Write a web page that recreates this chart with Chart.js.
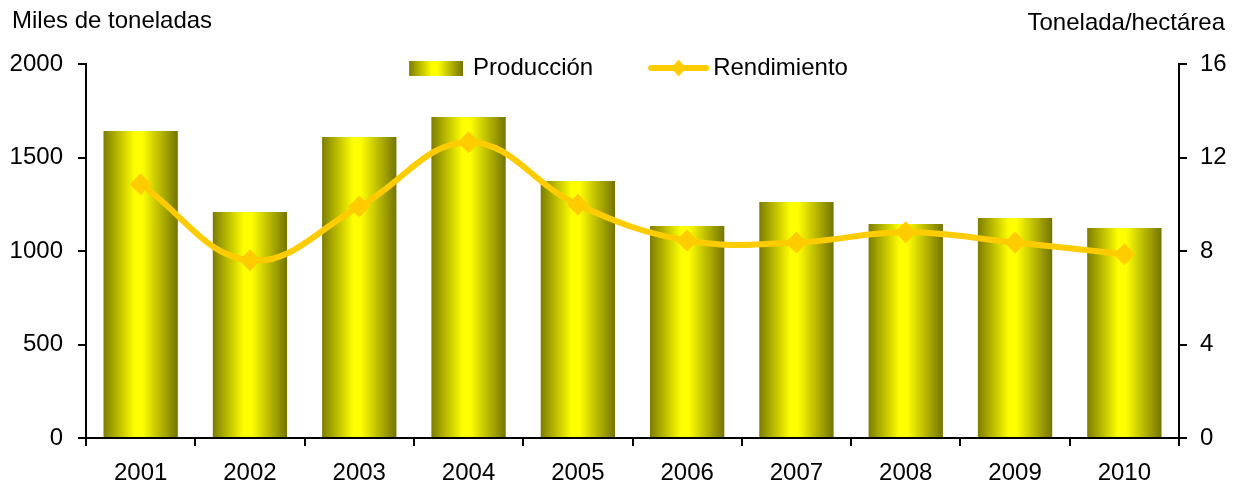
<!DOCTYPE html>
<html lang="es">
<head>
<meta charset="utf-8">
<title>Producción y rendimiento</title>
<script src="https://cdn.jsdelivr.net/npm/chart.js@4.4.1/dist/chart.umd.min.js"></script>
<style>
  html, body { margin: 0; padding: 0; background: #fff; }
  #wrap { width: 1238px; height: 485px; }
</style>
</head>
<body>
<div id="wrap"><canvas id="prodChart"></canvas></div>
<script>
const years = ['2001', '2002', '2003', '2004', '2005', '2006', '2007', '2008', '2009', '2010']
// miles de toneladas
const produccion = [1642, 1209, 1610, 1717, 1374, 1134, 1262, 1144, 1176, 1123]
// tonelada / hectárea
const rendimiento = [10.86, 7.6, 9.9, 12.65, 9.98, 8.45, 8.36, 8.8, 8.36, 7.86]
const seriesNames = ['Producción', 'Rendimiento']
const leftTitle = 'Miles de toneladas'
const rightTitle = 'Tonelada/hectárea'

const FONT = "'Liberation Sans', Arial, sans-serif"
const LINE_COLOR = '#FFCC00'
const BAR_PCT = 0.68

Chart.defaults.font.family = FONT
Chart.defaults.font.size = 24
Chart.defaults.color = '#000'

function addBarStops(g) {
  g.addColorStop(0, '#7d7d00')
  g.addColorStop(0.42, '#ffff00')
  g.addColorStop(0.52, '#ffff00')
  g.addColorStop(1, '#747400')
  return g
}

// legend icons: small canvases, content shifted by d from the legend box centre
function makeIcon(w, h, d, draw) {
  const c = document.createElement('canvas')
  c.width = Math.ceil(2 * (Math.abs(d) + w / 2))
  c.height = h
  const x0 = c.width / 2 + d - w / 2
  draw(c.getContext('2d'), x0)
  return c
}

const barIcon = makeIcon(54, 15, 10.5, (g, x0) => {
  g.fillStyle = addBarStops(g.createLinearGradient(x0, 0, x0 + 54, 0))
  g.fillRect(x0, 0, 54, 15)
})

const lineIcon = makeIcon(61, 18, 13, (g, x0) => {
  g.strokeStyle = LINE_COLOR
  g.lineWidth = 6
  g.lineCap = 'round'
  g.beginPath()
  g.moveTo(x0 + 3, 9)
  g.lineTo(x0 + 58, 9)
  g.stroke()
  g.fillStyle = LINE_COLOR
  g.beginPath()
  g.moveTo(x0 + 30.5 - 7.5, 9)
  g.lineTo(x0 + 30.5, 0.5)
  g.lineTo(x0 + 30.5 + 7.5, 9)
  g.lineTo(x0 + 30.5, 17.5)
  g.closePath()
  g.fill()
})

const axisTitles = {
  id: 'axisTitles',
  afterDraw(chart) {
    const { ctx } = chart
    ctx.save()
    ctx.font = '24px ' + FONT
    ctx.fillStyle = '#000'
    ctx.textBaseline = 'alphabetic'
    ctx.textAlign = 'left'
    ctx.fillText(leftTitle, 12, 28)
    ctx.textAlign = 'right'
    ctx.fillText(rightTitle, chart.width - 13, 30)
    ctx.restore()
  },
}

// legend sits over the top of the plot area: let it draw past its layout box
const legendOverlap = {
  id: 'legendOverlap',
  afterLayout(chart) {
    if (chart.legend) {
      chart.legend.bottom = chart.legend.top + 80
      chart.legend.height = 80
    }
  },
}

const axisGrid = { drawOnChartArea: false, color: '#000', lineWidth: 2, tickLength: 8 }
const axisBorder = { color: '#000', width: 2 }
const plainNumber = (v) => String(v)

const ctx = document.getElementById('prodChart').getContext('2d')
new Chart(ctx, {
  data: {
    labels: years,
    datasets: [
      {
        type: 'line',
        label: seriesNames[1],
        data: rendimiento,
        yAxisID: 'y1',
        borderColor: LINE_COLOR,
        borderWidth: 6,
        tension: 0.4,
        fill: false,
        pointStyle: 'rectRot',
        pointRadius: 11,
        pointBorderWidth: 0,
        pointBackgroundColor: LINE_COLOR,
        pointBorderColor: LINE_COLOR,
      },
      {
        type: 'bar',
        label: seriesNames[0],
        data: produccion,
        yAxisID: 'y',
        barPercentage: BAR_PCT,
        categoryPercentage: 1,
        borderWidth: 0,
        backgroundColor(c) {
          const { chartArea, scales } = c.chart
          if (!chartArea || c.type !== 'data') return '#d8d800'
          const cx = scales.x.getPixelForValue(c.dataIndex)
          const w = (chartArea.width / years.length) * BAR_PCT
          return addBarStops(c.chart.ctx.createLinearGradient(cx - w / 2, 0, cx + w / 2, 0))
        },
      },
    ],
  },
  options: {
    responsive: true,
    maintainAspectRatio: false,
    animation: false,
    layout: { padding: { top: 19, left: 0, right: 0, bottom: 0 } },
    plugins: {
      tooltip: { enabled: false },
      legend: {
        position: 'top',
        align: 'center',
        maxHeight: 45,
        labels: {
          usePointStyle: true,
          pointStyleWidth: 71,
          padding: 37,
          color: '#000',
          font: { size: 24 },
          generateLabels: () => [
            { text: seriesNames[0], pointStyle: barIcon, fillStyle: '#d8d800', strokeStyle: 'transparent', lineWidth: 0, hidden: false, datasetIndex: 1 },
            { text: seriesNames[1], pointStyle: lineIcon, fillStyle: LINE_COLOR, strokeStyle: 'transparent', lineWidth: 0, hidden: false, datasetIndex: 0 },
          ],
        },
      },
    },
    scales: {
      x: {
        offset: true,
        grid: { ...axisGrid, offset: true },
        border: axisBorder,
        ticks: { padding: 13 },
        afterFit(scale) { scale.height = 47 },
      },
      y: {
        position: 'left',
        min: 0,
        max: 2000,
        ticks: { stepSize: 500, padding: 15, callback: plainNumber },
        grid: axisGrid,
        border: axisBorder,
        afterFit(scale) { scale.width = 86 },
      },
      y1: {
        position: 'right',
        min: 0,
        max: 16,
        ticks: { stepSize: 4, padding: 13, callback: plainNumber },
        grid: axisGrid,
        border: axisBorder,
        afterFit(scale) { scale.width = 59 },
      },
    },
  },
  plugins: [legendOverlap, axisTitles],
})
</script>
</body>
</html>
